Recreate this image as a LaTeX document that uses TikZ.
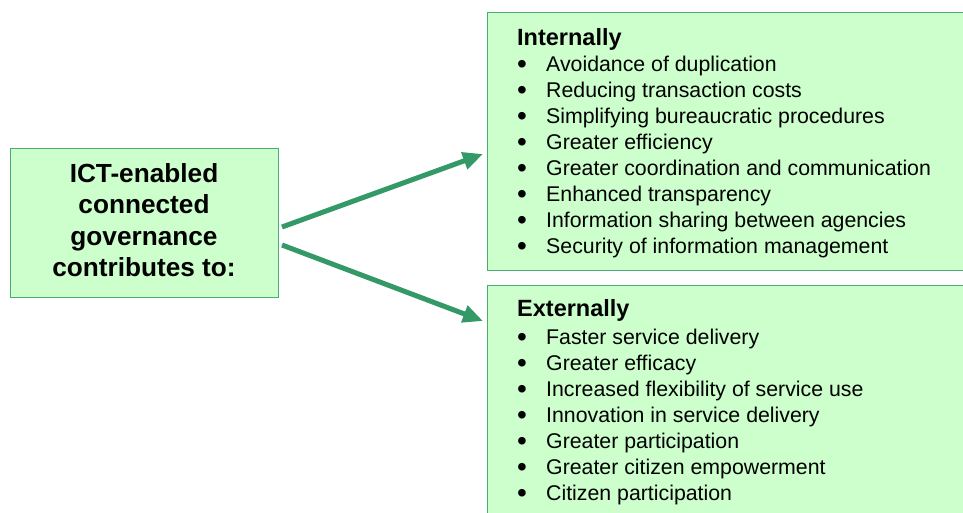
\documentclass[tikz,border=0pt]{standalone}
\usepackage{fontspec}
\setmainfont{Liberation Sans}
\usetikzlibrary{arrows.meta}
\definecolor{boxfill}{HTML}{CCFFCC}
\definecolor{boxline}{HTML}{4DAA77}
\definecolor{arrowgreen}{HTML}{339966}
\tikzset{
  greenbox/.style={draw=boxline, line width=1.2pt, fill=boxfill, anchor=north west, inner sep=0pt},
  headtext/.style={anchor=base west, inner sep=0pt, font=\fontsize{23.5}{27}\selectfont\bfseries},
  itemtext/.style={anchor=base west, inner sep=0pt, font=\fontsize{21.3}{26}\selectfont},
  bullettext/.style={anchor=base, inner sep=0pt, font=\fontsize{28}{26}\selectfont},
  lefttext/.style={anchor=base, inner sep=0pt, font=\fontsize{26.2}{31}\selectfont\bfseries},
  bigarrow/.style={draw=arrowgreen, line width=5pt, -{Triangle[length=20pt,width=17pt]}},
}
\begin{document}
\begin{tikzpicture}[x=1pt,y=-1pt]
\clip (0,0) rectangle (963,512);
\fill[white] (0,0) rectangle (963,512);
% boxes
\node[greenbox, minimum width=268pt, minimum height=149pt] (src) at (10,148) {};
\node[greenbox, minimum width=490pt, minimum height=258pt] (intbox) at (487,12) {};
\node[greenbox, minimum width=490pt, minimum height=240pt] (extbox) at (487,285) {};
% left text
\node[lefttext] (l1) at (144,182) {ICT-enabled};
\node[lefttext] (l2) at (144,213) {connected};
\node[lefttext] (l3) at (144,245) {governance};
\node[lefttext] (l4) at (144,276) {contributes to:};
% internal
\node[headtext] (ih) at (517,45) {Internally};
\foreach \t [count=\i from 0] in {Avoidance of duplication, Reducing transaction costs, Simplifying bureaucratic procedures, Greater efficiency, Greater coordination and communication, Enhanced transparency, Information sharing between agencies, Security of information management}{
  \node[bullettext] (ib\i) at (522,73+26*\i) {•};
  \node[itemtext] (it\i) at (546,71+26*\i) {\t};
}
% external
\node[headtext] (eh) at (517,316) {Externally};
\foreach \t [count=\i from 0] in {Faster service delivery, Greater efficacy, Increased flexibility of service use, Innovation in service delivery, Greater participation, Greater citizen empowerment, Citizen participation}{
  \node[bullettext] (eb\i) at (522,346+26*\i) {•};
  \node[itemtext] (et\i) at (546,344+26*\i) {\t};
}
% arrows
\coordinate (a1s) at (282,227);
\coordinate (a1e) at (483,154);
\coordinate (a2s) at (282,245);
\coordinate (a2e) at (483,321);
\draw[bigarrow] (a1s) -- (a1e);
\draw[bigarrow] (a2s) -- (a2e);
\end{tikzpicture}
\end{document}
